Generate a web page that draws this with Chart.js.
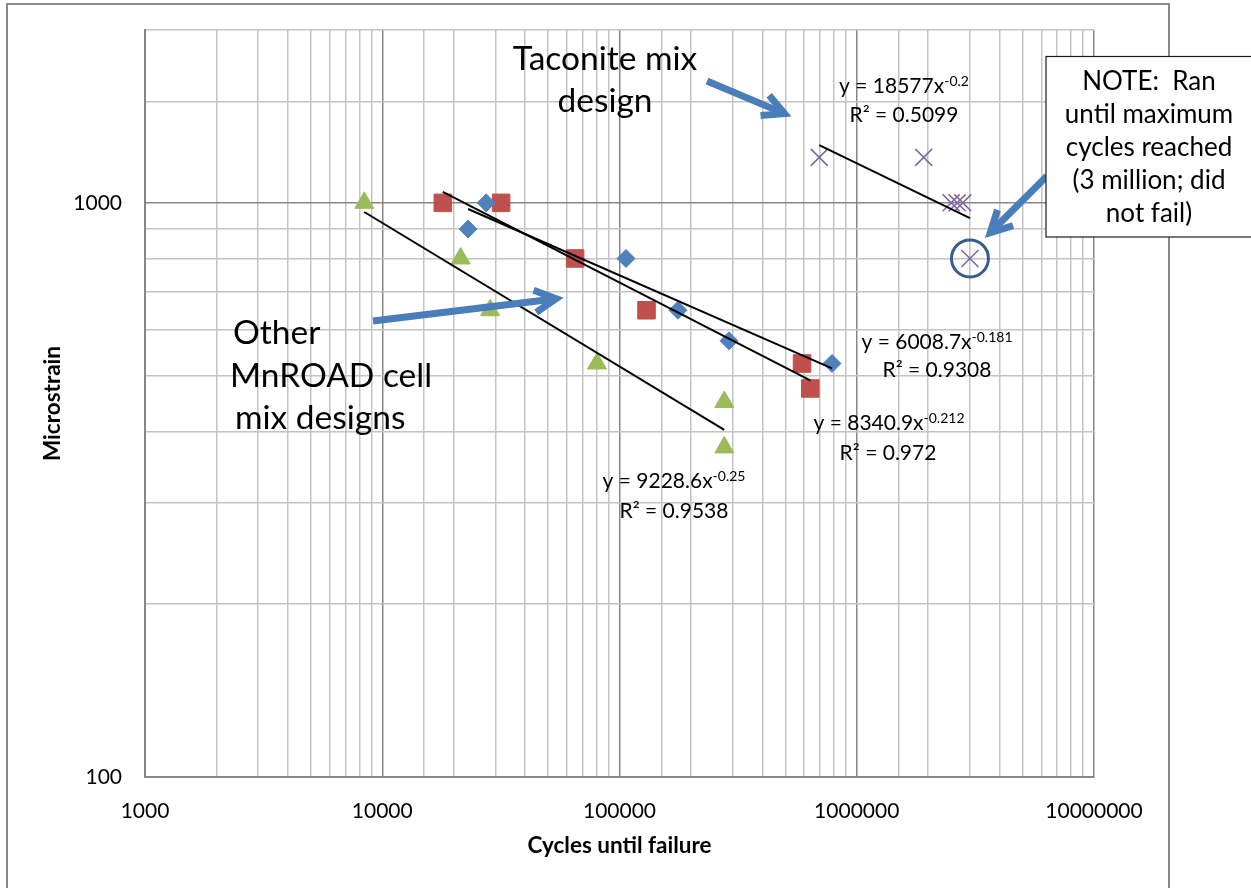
<!DOCTYPE html>
<html>
<head>
<meta charset="utf-8">
<script src="https://cdn.jsdelivr.net/npm/chart.js@4.4.1/dist/chart.umd.min.js"></script>
<style>
  html, body { margin: 0; padding: 0; background: #fff; }
  #wrap { width: 1251px; height: 888px; }
</style>
</head>
<body>
<div id="wrap"><canvas id="c" width="1251" height="888"></canvas></div>
<script>
// Beam fatigue results: microstrain against cycles until failure (log-log)

// Other MnROAD cell mix designs (three cells)
const cellAX = [27400, 23000, 106500, 176400, 289400, 786600];
const cellAY = [1000, 900, 800, 650, 575, 525];
const cellBX = [18000, 31700, 65000, 130000, 588000, 637000];
const cellBY = [1000, 1000, 800, 650, 525, 475];
const cellCX = [8400, 21400, 28500, 80400, 276500, 276500];
const cellCY = [1000, 800, 650, 525, 450, 375];
// Taconite mix design (last specimen ran out at 3 million cycles)
const taconiteX = [695000, 1915000, 2500000, 2650000, 2800000, 3000000];
const taconiteY = [1200, 1200, 1000, 1000, 1000, 800];

// Power trend lines y = a * x^b
const trendA = [6008.7, -0.181];
const trendB = [8340.9, -0.212];
const trendC = [9228.6, -0.25];
const trendT = [18577, -0.2];
const eqA = ['y = 6008.7x', '-0.181', 'R² = 0.9308'];
const eqB = ['y = 8340.9x', '-0.212', 'R² = 0.972'];
const eqC = ['y = 9228.6x', '-0.25', 'R² = 0.9538'];
const eqT = ['y = 18577x', '-0.2', 'R² = 0.5099'];

// Labelled axis ticks
const xTickValues = [1000, 10000, 100000, 1000000, 10000000];
const xTickLabels = ['1000', '10000', '100000', '1000000', '10000000'];
const yTickValues = [100, 1000];
const yTickLabels = ['100', '1000'];

const FONT = 'Lato';
const EQ_SIZE = 21, SUP_SIZE = 14, NOTE_SIZE = 26, CALLOUT_SIZE = 33.5;

function pts(xs, ys) { return xs.map((x, i) => ({ x, y: ys[i] })); }
function trend(xs, coef) {
  const lo = Math.min(...xs), hi = Math.max(...xs);
  return [lo, hi].map(x => ({ x, y: coef[0] * Math.pow(x, coef[1]) }));
}
function labelFor(values, labels) {
  return v => {
    const i = values.findIndex(t => Math.abs(t - v) < t * 1e-9);
    return i >= 0 ? labels[i] : '';
  };
}
function isDecade(v) {
  const l = Math.log10(v);
  return Math.abs(l - Math.round(l)) < 1e-9;
}
function gridColor(c) {
  return c.tick && isDecade(c.tick.value) ? '#878787' : '#c4c4c4';
}

function drawEq(ctx, cx, base, main, sup) {
  ctx.font = EQ_SIZE + 'px ' + FONT;
  const w1 = ctx.measureText(main).width;
  ctx.font = SUP_SIZE + 'px ' + FONT;
  const w2 = ctx.measureText(sup).width;
  const left = cx - (w1 + w2) / 2;
  ctx.textAlign = 'left';
  ctx.font = EQ_SIZE + 'px ' + FONT;
  ctx.fillText(main, left, base);
  ctx.font = SUP_SIZE + 'px ' + FONT;
  ctx.fillText(sup, left + w1, base - 7.5);
}
function drawCentered(ctx, cx, base, text, size) {
  ctx.font = size + 'px ' + FONT;
  ctx.textAlign = 'center';
  ctx.fillText(text, cx, base);
}

function arrow(ctx, x1, y1, x2, y2) {
  const ang = Math.atan2(y2 - y1, x2 - x1);
  const tx = x2 - Math.cos(ang) * 6, ty = y2 - Math.sin(ang) * 6;
  ctx.strokeStyle = '#4a7ebb';
  ctx.lineWidth = 7;
  ctx.lineCap = 'butt';
  ctx.lineJoin = 'miter';
  ctx.beginPath();
  ctx.moveTo(x1, y1);
  ctx.lineTo(tx - Math.cos(ang) * 2, ty - Math.sin(ang) * 2);
  ctx.stroke();
  const a = 0.48, L = 24;
  ctx.beginPath();
  ctx.moveTo(tx - L * Math.cos(ang - a), ty - L * Math.sin(ang - a));
  ctx.lineTo(tx, ty);
  ctx.lineTo(tx - L * Math.cos(ang + a), ty - L * Math.sin(ang + a));
  ctx.stroke();
}

const decorations = {
  id: 'decorations',
  beforeDraw(chart) {
    const ctx = chart.ctx;
    ctx.save();
    ctx.fillStyle = '#fff';
    ctx.fillRect(0, 0, chart.width, chart.height);
    ctx.strokeStyle = '#898989';
    ctx.lineWidth = 2;
    ctx.strokeRect(7, 4, 1162, 900);
    ctx.restore();
  },
  afterDraw(chart) {
    const ctx = chart.ctx;
    const sx = chart.scales.x, sy = chart.scales.y;
    ctx.save();
    ctx.fillStyle = '#000';
    ctx.textBaseline = 'alphabetic';

    // trend line equations
    drawEq(ctx, 904, 93, eqT[0], eqT[1]);
    drawCentered(ctx, 904, 122, eqT[2], EQ_SIZE);
    drawEq(ctx, 937, 349, eqA[0], eqA[1]);
    drawCentered(ctx, 937, 377, eqA[2], EQ_SIZE);
    drawEq(ctx, 889, 430, eqB[0], eqB[1]);
    drawCentered(ctx, 888, 460, eqB[2], EQ_SIZE);
    drawEq(ctx, 674, 488, eqC[0], eqC[1]);
    drawCentered(ctx, 674, 518, eqC[2], EQ_SIZE);

    // callouts
    drawCentered(ctx, 605, 70, 'Taconite mix', CALLOUT_SIZE);
    drawCentered(ctx, 605, 112, 'design', CALLOUT_SIZE);
    ctx.font = CALLOUT_SIZE + 'px ' + FONT;
    ctx.textAlign = 'left';
    ctx.fillText('Other', 233, 344);
    ctx.fillText('MnROAD cell', 230, 387);
    ctx.fillText('mix designs', 235, 429);

    arrow(ctx, 373, 321, 562, 298);
    arrow(ctx, 707, 81, 790, 116);
    arrow(ctx, 1047, 176, 986, 237);

    // ring around the run-out specimen
    const last = taconiteX.length - 1;
    const cx = sx.getPixelForValue(taconiteX[last]);
    const cy = sy.getPixelForValue(taconiteY[last]);
    ctx.strokeStyle = '#385d8a';
    ctx.lineWidth = 3;
    ctx.beginPath();
    ctx.arc(cx, cy, 18.5, 0, Math.PI * 2);
    ctx.stroke();

    // note box
    ctx.fillStyle = '#fff';
    ctx.fillRect(1046, 56.5, 210, 180.5);
    ctx.strokeStyle = '#1a1a1a';
    ctx.lineWidth = 1.2;
    ctx.strokeRect(1046, 56.5, 210, 180.5);
    ctx.fillStyle = '#000';
    const note = ['NOTE:  Ran', 'until maximum', 'cycles reached', '(3 million; did', 'not fail)'];
    note.forEach((t, i) => drawCentered(ctx, 1149, 90 + i * 32.9, t, NOTE_SIZE));
    ctx.restore();
  }
};

const scatter = (label, xs, ys, color, style, r, bw) => ({
  label, data: pts(xs, ys), order: 1,
  pointStyle: style, pointRadius: r, pointHoverRadius: r,
  backgroundColor: color, borderColor: color, pointBorderWidth: bw, showLine: false
});
const line = (label, xs, coef) => ({
  label, data: trend(xs, coef), order: 0, showLine: true,
  borderColor: '#000', borderWidth: 2, pointRadius: 0, pointHoverRadius: 0, fill: false
});

new Chart(document.getElementById('c'), {
  type: 'scatter',
  data: {
    datasets: [
      scatter('Cell A', cellAX, cellAY, '#4f81bd', 'rectRot', 9, 1),
      scatter('Cell B', cellBX, cellBY, '#c0504d', 'rect', 12.4, 1),
      scatter('Cell C', cellCX, cellCY, '#9bbb59', 'triangle', 11, 1),
      scatter('Taconite', taconiteX, taconiteY, '#8064a2', 'crossRot', 12, 1.5),
      line('Power (Cell A)', cellAX, trendA),
      line('Power (Cell B)', cellBX, trendB),
      line('Power (Cell C)', cellCX, trendC),
      line('Power (Taconite)', taconiteX, trendT)
    ]
  },
  options: {
    responsive: false,
    devicePixelRatio: 1,
    animation: false,
    events: [],
    layout: { padding: { top: 30, right: 157, left: 0, bottom: 0 } },
    plugins: { legend: { display: false }, tooltip: { enabled: false } },
    scales: {
      x: {
        type: 'logarithmic', min: 1000, max: 10000000, position: 'bottom',
        afterFit(s) { s.height = 111; s.paddingLeft = 0; s.paddingRight = 0; },
        ticks: {
          autoSkip: false, maxRotation: 0, minRotation: 0, padding: 22, color: '#000',
          font: { family: FONT, size: 21 },
          callback: labelFor(xTickValues, xTickLabels)
        },
        grid: { drawTicks: false, color: gridColor, lineWidth: 1.5 },
        border: { color: '#868686', width: 2 },
        title: {
          display: true, text: 'Cycles until failure', color: '#000',
          font: { family: FONT, size: 22.5, weight: 'bold' },
          padding: { top: 0, bottom: 28.5 }
        }
      },
      y: {
        type: 'logarithmic', min: 100, max: 2000, position: 'left',
        afterFit(s) { s.width = 145; s.paddingTop = 0; s.paddingBottom = 0; },
        ticks: {
          autoSkip: false, padding: 23, color: '#000',
          font: { family: FONT, size: 21 },
          callback: labelFor(yTickValues, yTickLabels)
        },
        grid: { drawTicks: false, color: gridColor, lineWidth: 1.5 },
        border: { color: '#868686', width: 2 },
        title: {
          display: true, text: 'Microstrain', color: '#000',
          font: { family: FONT, size: 22.5, weight: 'bold' },
          padding: { top: 39.5, bottom: 0 }
        }
      }
    }
  },
  plugins: [decorations]
});
</script>
</body>
</html>
